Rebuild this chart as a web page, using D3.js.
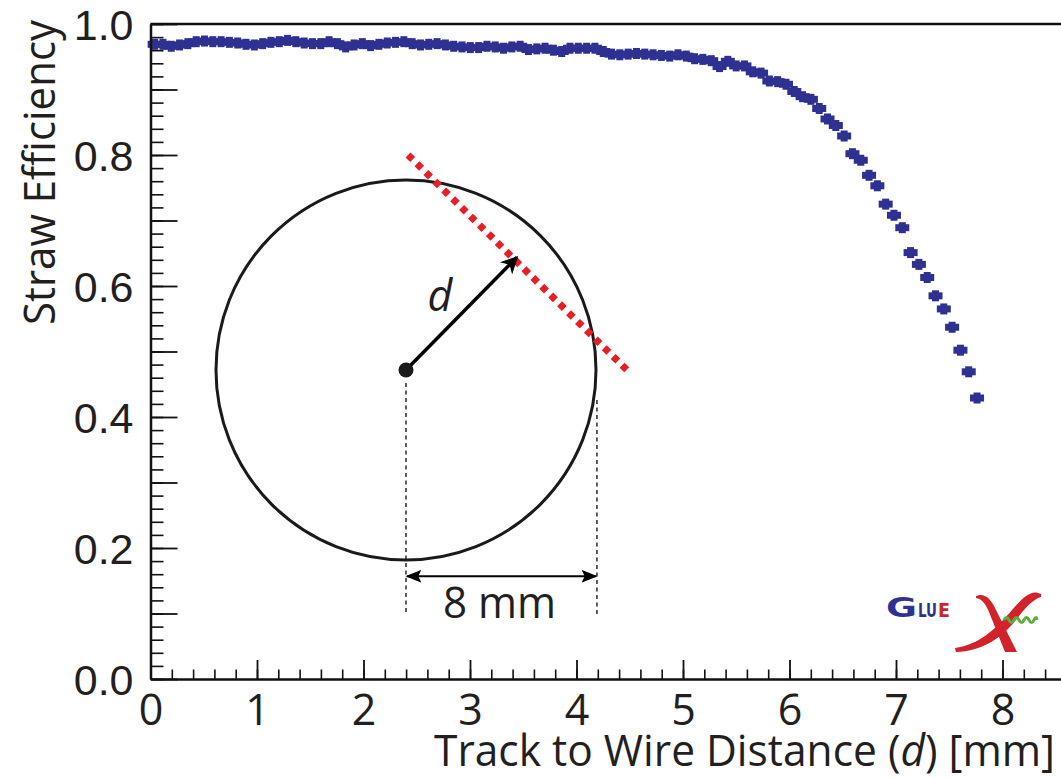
<!DOCTYPE html>
<html>
<head>
<meta charset="utf-8">
<script src="https://cdn.jsdelivr.net/npm/d3@7"></script>
<style>
  html, body { margin: 0; padding: 0; background: #fff; }
  svg { display: block; font-family: "Open Sans", "Noto Sans", sans-serif; }
</style>
</head>
<body>
<svg id="chart" width="1061" height="778"></svg>
<script>
// Binning: 100 bins over 0 - 7.8 mm
const binCount = 100;
const binWidth = 0.078;
const binCenters = d3.range(binCount).map(i => +(binWidth / 2 + i * binWidth).toFixed(4));

// Straw efficiency per bin
const efficiency = [
    0.969, 0.969, 0.966, 0.968, 0.970, 0.973, 0.974, 0.973, 0.973, 0.972,
    0.971, 0.969, 0.968, 0.970, 0.972, 0.973, 0.975, 0.973, 0.971, 0.970,
    0.970, 0.973, 0.970, 0.965, 0.968, 0.970, 0.967, 0.969, 0.971, 0.972,
    0.973, 0.970, 0.968, 0.969, 0.970, 0.968, 0.966, 0.965, 0.964, 0.964,
    0.966, 0.965, 0.963, 0.965, 0.966, 0.961, 0.962, 0.963, 0.960, 0.958,
    0.963, 0.963, 0.963, 0.963, 0.958, 0.954, 0.953, 0.954, 0.955, 0.954,
    0.953, 0.952, 0.951, 0.953, 0.951, 0.947, 0.946, 0.944, 0.935, 0.943,
    0.936, 0.936, 0.927, 0.925, 0.913, 0.912, 0.908, 0.897, 0.889, 0.885,
    0.871, 0.855, 0.845, 0.829, 0.802, 0.792, 0.769, 0.753, 0.725, 0.708,
    0.689, 0.651, 0.633, 0.613, 0.585, 0.565, 0.537, 0.502, 0.469, 0.429
];

const xMajorTicks = d3.range(0, 9, 1);
const xMinorTicks = d3.range(0, 43).map(i => +(i * 0.2).toFixed(1));
const yMajorTicks = d3.range(0, 11).map(i => +(i * 0.1).toFixed(1));
const yLabelTicks = [0.0, 0.2, 0.4, 0.6, 0.8, 1.0];
const yMinorTicks = d3.range(0, 51).map(i => +(i * 0.02).toFixed(2));

const points = binCenters.map((x, i) => ({ x, y: efficiency[i] }));

// Sizing
const svg = d3.select("#chart");
const plotLeft = 150.5, plotBottom = 679, plotTop = 24;
const unit = 106.5; // px per mm
const x = d3.scaleLinear().domain([0, 8.6]).range([plotLeft, plotLeft + 8.6 * unit]);
const y = d3.scaleLinear().domain([0, 1]).range([plotBottom, plotTop]);

const blue = "#2E3192", red = "#ED1C24", fontSize = 43;

// Data markers (cross-shaped error bars)
const marks = svg.append("g").attr("fill", blue);
points.forEach(d => {
    const cx = x(d.x), cy = y(d.y);
    marks.append("rect").attr("x", cx - 7).attr("y", cy - 3.5).attr("width", 14).attr("height", 7);
    marks.append("rect").attr("x", cx - 3.5).attr("y", cy - 5.5).attr("width", 7).attr("height", 11);
});

// Frame top line
svg.append("line")
    .attr("x1", plotLeft).attr("x2", 1061).attr("y1", plotTop).attr("y2", plotTop)
    .attr("stroke", "#111").attr("stroke-width", 2.5);

// X axis: minor then major
svg.append("g")
    .attr("transform", `translate(0,${plotBottom})`)
    .call(d3.axisBottom(x).tickValues(xMinorTicks).tickSize(-9.5).tickFormat(""))
    .call(g => g.select(".domain").remove())
    .call(g => g.selectAll("line").attr("stroke", "#111").attr("stroke-width", 1.6));

const xAxis = svg.append("g")
    .attr("transform", `translate(0,${plotBottom})`)
    .call(d3.axisBottom(x).tickValues(xMajorTicks).tickSize(-19).tickSizeOuter(0).tickFormat(d3.format("d")));
xAxis.select(".domain").attr("stroke", "#111").attr("stroke-width", 2.5);
xAxis.selectAll("line").attr("stroke", "#111").attr("stroke-width", 1.8);
xAxis.selectAll("text")
    .attr("y", 46).attr("dy", null)
    .attr("font-size", fontSize).attr("fill", "#231f20")
    .attr("font-family", "'Open Sans', sans-serif");

// Y axis: minor then major
svg.append("g")
    .attr("transform", `translate(${plotLeft},0)`)
    .call(d3.axisLeft(y).tickValues(yMinorTicks).tickSize(-13).tickFormat(""))
    .call(g => g.select(".domain").remove())
    .call(g => g.selectAll("line").attr("stroke", "#111").attr("stroke-width", 1.6));

const yAxis = svg.append("g")
    .attr("transform", `translate(${plotLeft},0)`)
    .call(d3.axisLeft(y).tickValues(yMajorTicks).tickSize(-27).tickSizeOuter(0)
        .tickFormat(d => yLabelTicks.some(v => Math.abs(v - d) < 1e-6) ? d3.format(".1f")(d) : ""));
yAxis.select(".domain").attr("stroke", "#111").attr("stroke-width", 2.5);
yAxis.selectAll("line").attr("stroke", "#111").attr("stroke-width", 1.8);
yAxis.selectAll("text")
    .attr("x", -17).attr("dy", "0.36em")
    .attr("font-size", fontSize).attr("fill", "#231f20");

// Axis titles
svg.append("text")
    .attr("x", 1055).attr("y", 766)
    .attr("text-anchor", "end")
    .attr("font-size", fontSize).attr("fill", "#231f20")
    .attr("textLength", 621).attr("lengthAdjust", "spacingAndGlyphs")
    .html('Track to Wire Distance (<tspan font-style="italic">d</tspan>) [mm]');

svg.append("text")
    .attr("transform", "translate(55,20) rotate(-90)")
    .attr("text-anchor", "end")
    .attr("font-size", fontSize).attr("fill", "#231f20")
    .attr("textLength", 305).attr("lengthAdjust", "spacingAndGlyphs")
    .text("Straw Efficiency");

// Diagram of a straw with a track
const straw = { cx: 2.399, cy: 0.4718, r: 190 };
const track = [{ x: 2.418, y: 0.800 }, { x: 4.474, y: 0.4718 }];
const arrowTip = { x: 3.441, y: 0.644 };
const dashX = [{ x: 2.399, y0: 0.452, y1: 0.098 }, { x: 4.192, y0: 0.426, y1: 0.098 }];
const widthArrowY = 0.157;

const defs = svg.append("defs");
defs.append("marker").attr("id", "head")
    .attr("viewBox", "0 0 10 10").attr("refX", 9).attr("refY", 5)
    .attr("markerWidth", 5).attr("markerHeight", 5).attr("orient", "auto-start-reverse")
    .attr("markerUnits", "strokeWidth")
    .append("path").attr("d", "M0,0 L10,5 L0,10 L3,5 Z").attr("fill", "#000");
defs.append("marker").attr("id", "thin")
    .attr("viewBox", "0 0 10 10").attr("refX", 9).attr("refY", 5)
    .attr("markerWidth", 8).attr("markerHeight", 8).attr("orient", "auto-start-reverse")
    .attr("markerUnits", "strokeWidth")
    .append("path").attr("d", "M0,1 L10,5 L0,9 L2,5 Z").attr("fill", "#000");

svg.append("circle")
    .attr("cx", x(straw.cx)).attr("cy", y(straw.cy)).attr("r", straw.r)
    .attr("fill", "none").attr("stroke", "#1a1a1a").attr("stroke-width", 3);

svg.append("line")
    .attr("x1", x(track[0].x)).attr("y1", y(track[0].y))
    .attr("x2", x(track[1].x)).attr("y2", y(track[1].y))
    .attr("stroke", red).attr("stroke-width", 7).attr("stroke-dasharray", "6.5 6");

svg.append("line")
    .attr("x1", x(straw.cx)).attr("y1", y(straw.cy))
    .attr("x2", x(arrowTip.x)).attr("y2", y(arrowTip.y))
    .attr("stroke", "#000").attr("stroke-width", 3.5).attr("marker-end", "url(#head)");

svg.append("circle")
    .attr("cx", x(straw.cx)).attr("cy", y(straw.cy)).attr("r", 7.5).attr("fill", "#1a1a1a");

dashX.forEach(d => {
    svg.append("line")
        .attr("x1", x(d.x)).attr("x2", x(d.x)).attr("y1", y(d.y0)).attr("y2", y(d.y1))
        .attr("stroke", "#1a1a1a").attr("stroke-width", 1.4).attr("stroke-dasharray", "4 3.5");
});

svg.append("line")
    .attr("x1", x(dashX[0].x) + 1).attr("x2", x(dashX[1].x) - 1)
    .attr("y1", y(widthArrowY)).attr("y2", y(widthArrowY))
    .attr("stroke", "#000").attr("stroke-width", 2)
    .attr("marker-start", "url(#thin)").attr("marker-end", "url(#thin)");

svg.append("text")
    .attr("x", 440).attr("y", 311).attr("text-anchor", "middle")
    .attr("font-size", fontSize).attr("font-style", "italic").attr("fill", "#231f20")
    .text("d");

svg.append("text")
    .attr("x", 499.5).attr("y", 618).attr("text-anchor", "middle")
    .attr("font-size", fontSize).attr("fill", "#231f20")
    .attr("textLength", 113).attr("lengthAdjust", "spacingAndGlyphs")
    .text("8 mm");

// GlueX logo
const logo = svg.append("g").attr("font-family", "'DejaVu Sans', sans-serif").attr("font-weight", "bold");
logo.append("text").attr("x", 886).attr("y", 617).attr("font-size", 26).attr("fill", "#2E3192")
    .attr("textLength", 31).attr("lengthAdjust", "spacingAndGlyphs").text("G");
logo.append("text").attr("x", 918).attr("y", 617).attr("font-size", 19).attr("fill", "#2E3192")
    .attr("textLength", 19).attr("lengthAdjust", "spacingAndGlyphs").text("LU");
logo.append("text").attr("x", 938).attr("y", 617).attr("font-size", 19).attr("fill", "#D2232A")
    .attr("textLength", 12).attr("lengthAdjust", "spacingAndGlyphs").text("E");
logo.append("path")
    .attr("d", "M976,596 C984,593 990,597 996,610 L1017,652 L1005,652 L991,617 C987,606 983,599 976,598 Z")
    .attr("fill", "#D2232A");
logo.append("path")
    .attr("d", "M1041,594 C1032,589 1024,596 1012,610 C995,630 978,645 955,648 L956,652 C980,651 1000,640 1016,620 C1025,608 1032,600 1041,597 Z")
    .attr("fill", "#D2232A");
logo.append("path")
    .attr("d", "M1004,620 q2.5,-5 5,0 t5,0 t5,0 t5,0 t5,0 t5,0 t3,0")
    .attr("fill", "none").attr("stroke", "#5DAE3B").attr("stroke-width", 3);
</script>
</body>
</html>
